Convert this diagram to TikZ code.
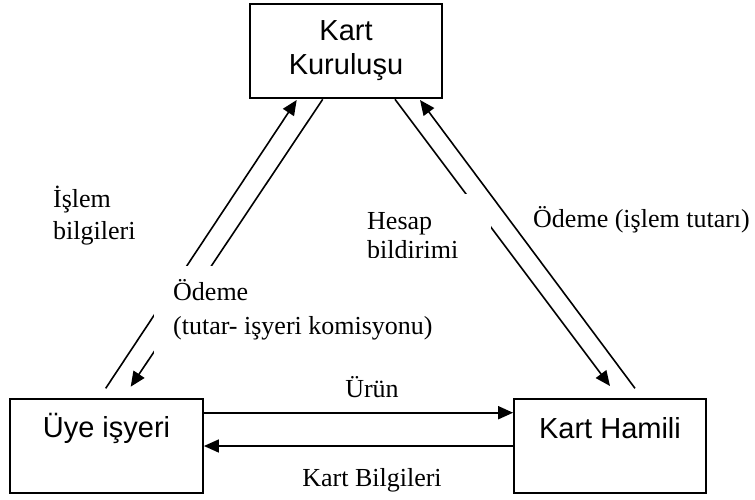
\documentclass[tikz,border=0pt]{standalone}
\usepackage{fontspec}
\setmainfont{Liberation Serif}
\setsansfont{Liberation Sans}
\usetikzlibrary{arrows.meta}
\begin{document}
\begin{tikzpicture}[x=1pt,y=-1pt,
  box/.style={draw, line width=1.8pt, inner sep=0pt},
  boxtext/.style={font=\sffamily\fontsize{29}{34}\selectfont, align=center, inner sep=0pt},
  lbl/.style={font=\fontsize{26}{32}\selectfont, align=left, inner sep=0pt},
  conn/.style={line width=1.6pt, -{Triangle[length=15pt,width=13pt]}},
  cover/.style={fill=white, draw=none, inner sep=0pt}]
\useasboundingbox (0,0) rectangle (755,499);

% boxes
\node[box, boxtext, minimum width=192pt, minimum height=94pt] (kk) at (346,51) {Kart\\Kuruluşu};
\node[box, minimum width=193pt, minimum height=94pt] (ui) at (106.5,446) {};
\node[boxtext] (uit) at (106.5,428) {Üye işyeri};
\node[box, minimum width=192pt, minimum height=94pt] (kh) at (610,446) {};
\node[boxtext] (kht) at (610,428) {Kart Hamili};

% connector end points
\coordinate (l1s) at (105.7,388.3);
\coordinate (l1e) at (296.7,100);
\coordinate (l2s) at (322.7,99.3);
\coordinate (l2e) at (130.7,386.7);
\coordinate (rAs) at (395,99.3);
\coordinate (rAe) at (610,386);
\coordinate (rBs) at (635,388.3);
\coordinate (rBe) at (420,100);

% diagonal connectors (under the text boxes)
\draw[conn] (l1s) -- (l1e);
\draw[conn] (l2s) -- (l2e);
\draw[conn] (rAs) -- (rAe);

% white text boxes
\node[cover, anchor=north west, minimum width=291pt, minimum height=92pt] (c1) at (153.5,266) {};
\node[cover, anchor=north west, minimum width=136pt, minimum height=64pt] (c2) at (355,194) {};

\draw[conn] (rBs) -- (rBe);

% horizontal connectors
\draw[conn, line width=1.9pt] ([yshift=33.3pt]ui.east) -- ([yshift=33.3pt]kh.west);
\draw[conn] (kh.west) -- (ui.east);

% labels
\node[lbl, anchor=west] (t1) at (53,216) {İşlem\\bilgileri};
\node[lbl, anchor=west, font=\fontsize{26}{34}\selectfont] (t2) at (173,310) {Ödeme\\(tutar- işyeri komisyonu)};
\begin{scope}
\clip (c2.north west) rectangle ([yshift=1pt]c2.south east);
\node[lbl, anchor=west, font=\fontsize{26}{29}\selectfont] (t3) at (367,236) {Hesap\\bildirimi};
\end{scope}
\node[lbl, anchor=west] (t4) at (533,220) {Ödeme (işlem tutarı)};
\node[lbl] (t5) at (372,387) {Ürün};
\node[lbl] (t6) at (372,480) {Kart Bilgileri};
\end{tikzpicture}
\end{document}
